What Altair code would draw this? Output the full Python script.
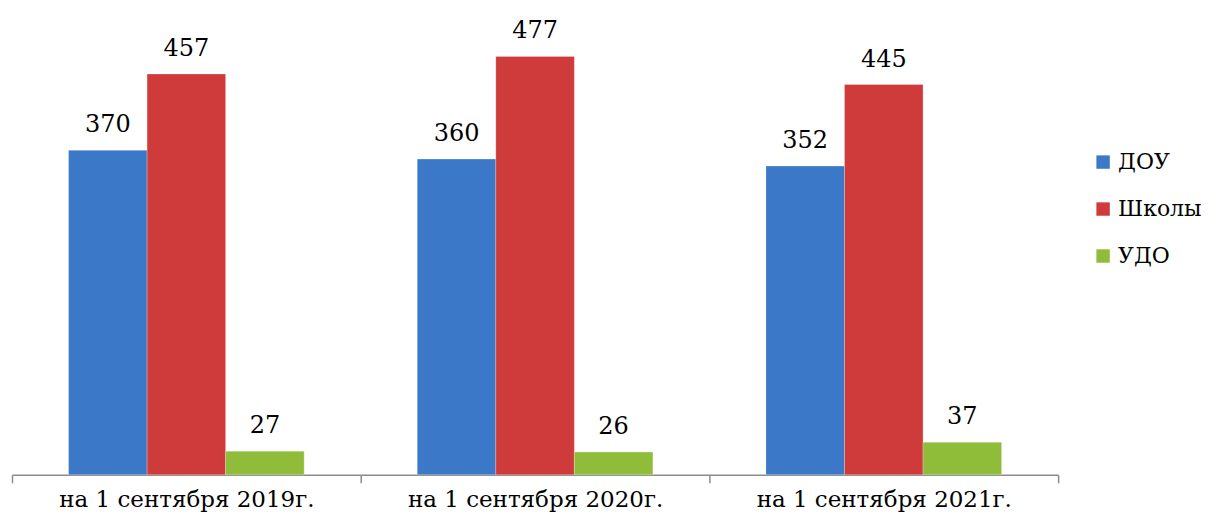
import altair as alt
import pandas as pd

categories = ["на 1 сентября 2019г.", "на 1 сентября 2020г.", "на 1 сентября 2021г."]
series = ["ДОУ", "Школы", "УДО"]
values_dou = [370, 360, 352]
values_school = [457, 477, 445]
values_udo = [27, 26, 37]
colors = ["#3B79C8", "#CF3B3B", "#8FBD3A"]

rows = []
for i, c in enumerate(categories):
    for s, vals in zip(series, [values_dou, values_school, values_udo]):
        rows.append({"cat": c, "series": s, "value": vals[i]})
df = pd.DataFrame(rows)

FONT = "DejaVu Serif"

x = alt.X("cat:N", sort=categories, title=None,
          scale=alt.Scale(paddingInner=0, paddingOuter=0),
          axis=alt.Axis(labelAngle=0, labelFontSize=23, labelFont=FONT, labelColor="#000000",
                        labelLimit=0,
                        domainColor="#8c8c8c", tickColor="#8c8c8c", tickSize=8,
                        tickBand="extent", labelPadding=6, domainWidth=1.5, tickWidth=1.5))
xo = alt.XOffset("series:N", sort=series,
                 scale=alt.Scale(paddingInner=0, paddingOuter=0.72))
y = alt.Y("value:Q", title=None,
          scale=alt.Scale(domain=[0, 532], nice=False),
          axis=None)

bars = alt.Chart(df).mark_bar(stroke="#ffffff", strokeOpacity=0.25, strokeWidth=1).encode(
    x=x, xOffset=xo, y=y,
    color=alt.Color("series:N", sort=series,
                    scale=alt.Scale(domain=series, range=colors),
                    legend=alt.Legend(title=None, orient="none", legendX=1081, legendY=143,
                                      symbolType="square", symbolSize=180,
                                      symbolStrokeWidth=0, labelFontSize=22, labelFont=FONT,
                                      labelColor="#000000", rowPadding=25, labelOffset=4,
                                      labelLimit=0))
)

labels = alt.Chart(df).mark_text(baseline="alphabetic", dy=-18, fontSize=24, font=FONT,
                                 color="#000000").encode(
    x=x, xOffset=xo, y=y, text="value:Q"
)

chart = (bars + labels).properties(
    width=1047, height=467,
    background="#ffffff",
    autosize=alt.AutoSizeParams(type="none"),
    padding={"left": 4, "top": 0, "right": 152, "bottom": 44},
).configure_view(stroke=None)

chart.save("out.html", embed_options={"renderer": "svg", "actions": False})
